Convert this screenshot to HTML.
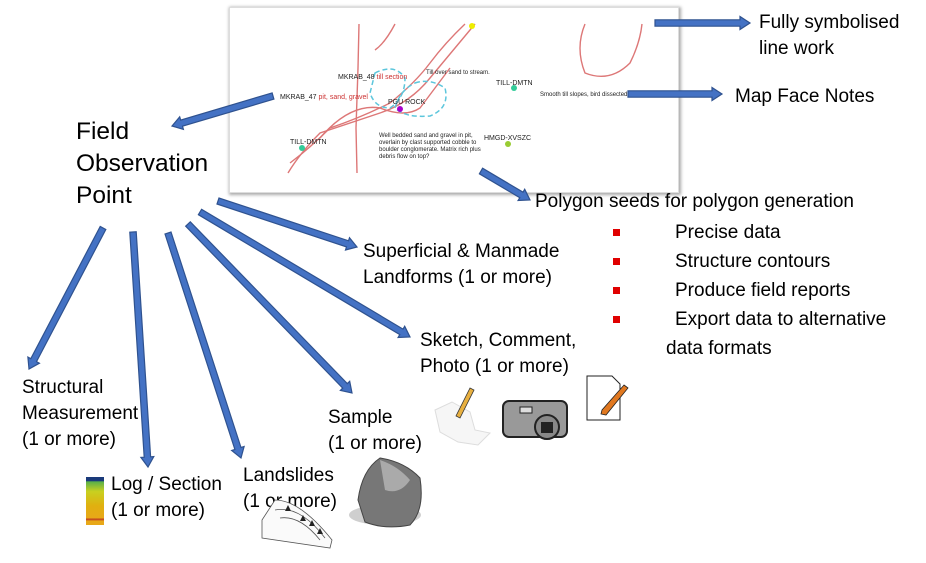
<!DOCTYPE html>
<html><head><meta charset="utf-8"><style>
body{margin:0;width:926px;height:563px;background:#fff;position:relative;overflow:hidden;font-family:"Liberation Sans",sans-serif;color:#000}
.t{position:absolute;font-size:19px;line-height:26px;white-space:nowrap}
.map{position:absolute;left:229px;top:7px;width:448px;height:184px;background:#fff;box-shadow:1px 1px 3px 1px #aaa;border:1px solid #ddd}
.sq{position:absolute;width:7px;height:7px;background:#e00000}
</style></head><body>
<div class="map">
<svg width="448" height="184" style="position:absolute;left:0;top:0;font-family:'Liberation Sans',sans-serif">
<g fill="none" stroke="#d77" stroke-width="1.4">
<path d="M129 16 L128 60 L126 120 L127 165"/>
<path d="M165 16 Q155 35 145 42"/>
<path d="M235 16 Q215 35 200 55 Q185 75 160 95 Q130 110 100 120 Q80 140 60 155"/>
<path d="M245 16 Q225 40 200 70 Q180 95 150 105 Q120 115 90 125 Q70 145 58 165"/>
<path d="M90 130 Q120 95 150 100 Q175 110 190 100 Q205 80 220 60"/>
<path d="M355 16 Q345 40 355 65 Q380 75 400 55 Q410 35 412 16"/>
</g>
<g fill="none" stroke="#5cc6dc" stroke-width="1.5" stroke-dasharray="5 3">
<path d="M145 65 Q165 55 175 70 Q175 90 160 100 Q145 100 140 85 Z"/>
<path d="M185 75 Q200 70 215 80 Q220 100 200 108 Q175 110 165 100 Q170 82 185 75 Z"/>
</g>
<circle cx="242" cy="18" r="3" fill="#ee0"/>
<circle cx="170" cy="101" r="3" fill="#a0c"/>
<circle cx="72" cy="140" r="3" fill="#3c9"/>
<circle cx="284" cy="80" r="3" fill="#3c9"/>
<circle cx="278" cy="136" r="3" fill="#9c3"/>
<g font-size="7" fill="#222">
<text x="108" y="71">MKRAB_48 <tspan fill="#c33">till section</tspan></text>
<text x="50" y="91">MKRAB_47 <tspan fill="#c33">pit, sand, gravel</tspan></text>
<text x="158" y="96">PGU ROCK</text>
<text x="60" y="136">TILL-DMTN</text>
<text x="266" y="77">TILL-DMTN</text>
<text x="254" y="132">HMGD-XVSZC</text>
<text x="196" y="66" font-size="6">Till over sand to stream.</text>
<text x="310" y="88" font-size="6">Smooth till slopes, bird dissected.</text>
<text x="149" y="129" font-size="6">Well bedded sand and gravel in pit,</text>
<text x="149" y="136" font-size="6">overlain by clast supported cobble to</text>
<text x="149" y="143" font-size="6">boulder conglomerate. Matrix rich plus</text>
<text x="149" y="150" font-size="6">debris flow on top?</text>
</g>
</svg>
</div>
<svg width="926" height="563" style="position:absolute;left:0;top:0">
<g id="arrows"></g>
</svg>
<div class="t" style="left:76px;top:116px;font-size:24.5px;line-height:32px">Field<br>Observation<br>Point</div>
<div class="t" style="left:759px;top:10px">Fully symbolised<br>line work</div>
<div class="t" style="left:735px;top:84px">Map Face Notes</div>
<div class="t" style="left:535px;top:189px">Polygon seeds for polygon generation</div>
<div class="sq" style="left:613px;top:229px"></div><div class="t" style="left:675px;top:220px">Precise data</div>
<div class="sq" style="left:613px;top:258px"></div><div class="t" style="left:675px;top:249px">Structure contours</div>
<div class="sq" style="left:613px;top:287px"></div><div class="t" style="left:675px;top:278px">Produce field reports</div>
<div class="sq" style="left:613px;top:316px"></div><div class="t" style="left:675px;top:307px">Export data to alternative</div>
<div class="t" style="left:666px;top:336px">data formats</div>
<div class="t" style="left:363px;top:239px">Superficial &amp; Manmade<br>Landforms (1 or more)</div>
<div class="t" style="left:420px;top:328px">Sketch, Comment,<br>Photo (1 or more)</div>
<div class="t" style="left:328px;top:405px">Sample<br>(1 or more)</div>
<div class="t" style="left:22px;top:375px">Structural<br>Measurement<br>(1 or more)</div>
<div class="t" style="left:111px;top:472px">Log / Section<br>(1 or more)</div>
<div class="t" style="left:243px;top:463px">Landslides<br>(1 or more)</div>
<div style="position:absolute;left:86px;top:477px;width:18px;height:48px;background:linear-gradient(#1a3a7a 0,#1a3a7a 8%,#5ab04a 10%,#c8d020 30%,#e0b010 60%,#e8a818 85%,#c04020 88%,#e8a818 92%)"></div>
<svg style="position:absolute;left:0;top:0" width="926" height="563">
<g stroke="#555" fill="none" stroke-width="0.8">
<path d="M262 520 L262 538 L330 548 L332 540 Q300 500 275 500 Z" fill="#fafafa"/>
<path d="M275 510 Q300 505 325 538 M280 518 Q300 515 320 540"/>
</g>
<g fill="#222"><path d="M288 505 l3 6 h-6z M303 515 l3 6 h-6z M312 520 l3 6 h-6z M320 528 l3 6 h-6z"/></g>
<ellipse cx="385" cy="515" rx="36" ry="10" fill="#bbb" opacity=".7"/>
<path d="M358 500 Q362 470 380 458 Q405 462 420 478 Q425 510 410 525 Q385 530 365 522 Z" fill="#777" stroke="#444"/>
<path d="M380 460 Q398 466 410 480 Q400 495 385 490 Z" fill="#aaa"/>
<path d="M435 410 L452 402 L470 412 L475 430 L490 433 L478 445 L458 442 L440 432 Z" fill="#f6f6f6" stroke="#ddd"/>
<path d="M470 388 L474 390 L460 418 L456 416 Z" fill="#e8b040" stroke="#333" stroke-width=".8"/>
<rect x="503" y="401" width="64" height="36" rx="6" fill="#999" stroke="#222" stroke-width="2"/>
<rect x="520" y="407" width="12" height="6" fill="#ddd" stroke="#222"/>
<circle cx="547" cy="427" r="12" fill="#888" stroke="#222" stroke-width="2"/>
<rect x="541" y="422" width="12" height="11" fill="#222"/>
<path d="M587 376 L612 376 L620 384 L620 420 L587 420 Z" fill="#fff" stroke="#222"/>
<path d="M624 385 L628 388 L606 415 L601 414 L602 410 Z" fill="#e07820" stroke="#222" stroke-width=".8"/>
</svg>
<script>
var A=[[273,96,172,126],[655,23,750,23],[628,94,722,94],[481,171,530,200],[218,201,357,247],[200,212,410,337],[188,224,352,393],[168,233,241,458],[133,232,148,467],[103,228,29,369]];
var g=document.getElementById('arrows'),s='';
A.forEach(function(a){var dx=a[2]-a[0],dy=a[3]-a[1],L=Math.hypot(dx,dy),ux=dx/L,uy=dy/L,px=-uy,py=ux,w=3.2,hw=6.5,hl=10;
var bx=a[2]-ux*hl,by=a[3]-uy*hl;
var p=[[a[0]+px*w,a[1]+py*w],[bx+px*w,by+py*w],[bx+px*hw,by+py*hw],[a[2],a[3]],[bx-px*hw,by-py*hw],[bx-px*w,by-py*w],[a[0]-px*w,a[1]-py*w]];
s+='<polygon points="'+p.map(function(q){return q[0].toFixed(1)+','+q[1].toFixed(1)}).join(' ')+'" fill="#4472c4" stroke="#2f528f" stroke-width="1.2"/>';});
g.innerHTML=s;
</script>
</body></html>
